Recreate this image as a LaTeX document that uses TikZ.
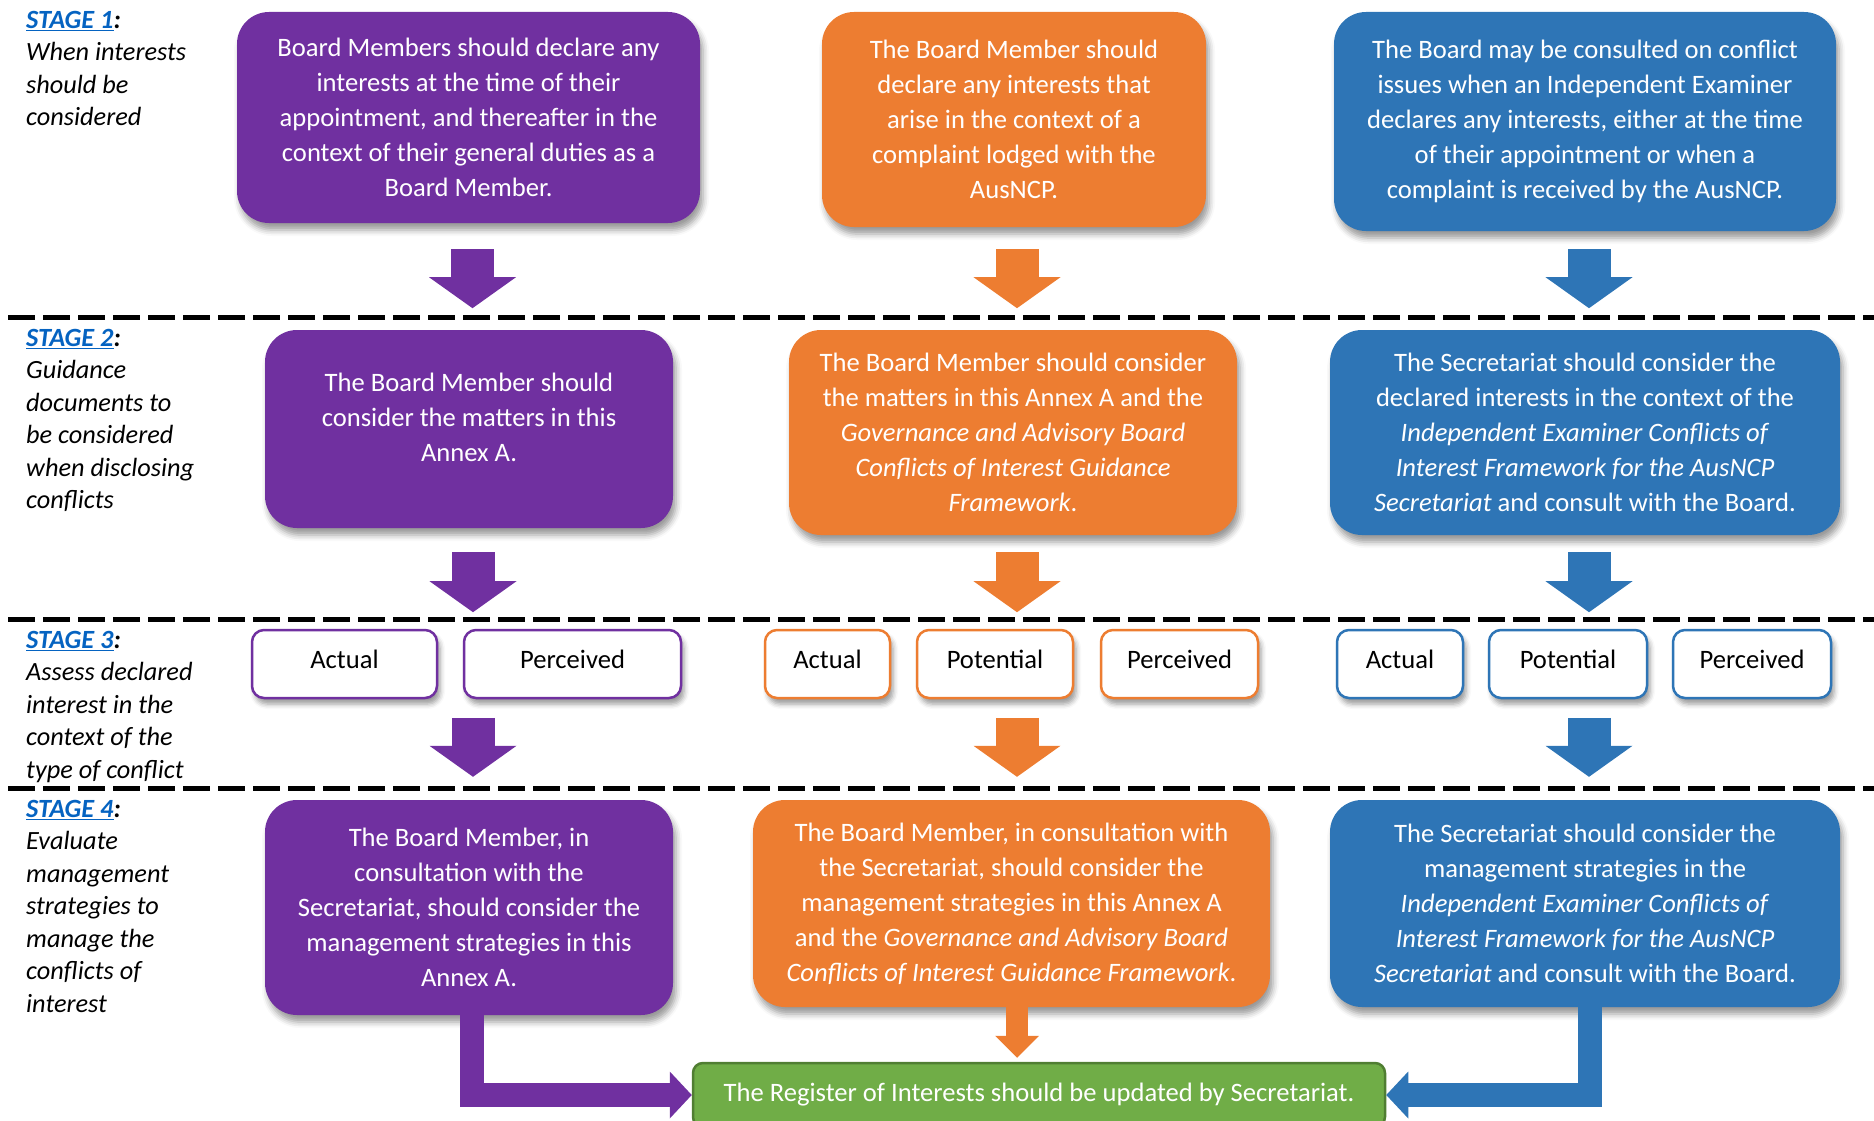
\documentclass[tikz,border=0pt]{standalone}
\usepackage{fontspec}
\setmainfont{Carlito}
\usetikzlibrary{arrows.meta, calc, shadows.blur}
\definecolor{cpurple}{HTML}{7030A0}
\definecolor{corange}{HTML}{ED7D31}
\definecolor{cblue}{HTML}{2E75B6}
\definecolor{cgreen}{HTML}{70AD47}
\definecolor{cgreendark}{HTML}{507E32}
\definecolor{stagelink}{HTML}{0563C1}

\newcommand{\stagetag}[1]{{\bfseries\textcolor{stagelink}{\underline{STAGE #1}}:}}

\begin{document}
\begin{tikzpicture}[
    x=1pt, y=-1pt,
    box text/.style={font=\fontsize{26.6}{35}\selectfont, align=center},
    big box/.style={box text, text=white, rounded corners=32pt, inner sep=0pt,
        blur shadow={shadow xshift=3pt, shadow yshift=-7pt, shadow blur radius=6pt}},
    purple box/.style={big box, fill=cpurple},
    orange box/.style={big box, fill=corange},
    blue box/.style={big box, fill=cblue},
    type box/.style={box text, fill=white, line width=2.5pt, rounded corners=12pt,
        minimum height=68pt, inner sep=0pt, text height=18pt, text depth=10pt,
        blur shadow={shadow xshift=3pt, shadow yshift=-6pt, shadow blur radius=5pt}},
    stage label/.style={font=\fontsize{26.3}{32.5}\selectfont\itshape, align=left,
        anchor=north west, inner sep=0pt},
    dash line/.style={line width=5pt, dash pattern=on 27pt off 8pt},
    down arrow/.style={line width=43pt, -{Triangle[width=87pt, length=31pt, line width=0pt]}},
    end arrow/.style={line width=24pt, line join=miter, -{Triangle[width=47pt, length=22pt, line width=0pt]}},
    small end arrow/.style={line width=22pt, -{Triangle[width=44pt, length=22pt, line width=0pt]}}
]
    \useasboundingbox (0,0) rectangle (1874,1121);
    \clip (0,0) rectangle (1874,1121);

    % --- Stage labels ---
    \node[stage label] (stage1) at (26,11) {\stagetag{1}\\When interests\\should be\\considered};
    \node[stage label] (stage2) at (26,329) {\stagetag{2}\\Guidance\\documents to\\be considered\\when disclosing\\conflicts};
    \node[stage label] (stage3) at (26,631) {\stagetag{3}\\Assess declared\\interest in the\\context of the\\type of conflict};
    \node[stage label] (stage4) at (26,800) {\stagetag{4}\\Evaluate\\management\\strategies to\\manage the\\conflicts of\\interest};

    % --- Stage separators ---
    \draw[dash line] (8,317) -- (1874,317);
    \draw[dash line] (8,619) -- (1874,619);
    \draw[dash line] (8,788) -- (1874,788);

    % --- Stage 1 ---
    \node[purple box, minimum width=463pt, minimum height=211pt] (P1) at (468.5,117.5)
        {Board Members should declare any\\interests at the time of their\\appointment, and thereafter in the\\context of their general duties as a\\Board Member.};
    \node[orange box, minimum width=384pt, minimum height=215pt] (O1) at (1014,119.5)
        {The Board Member should\\declare any interests that\\arise in the context of a\\complaint lodged with the\\AusNCP.};
    \node[blue box, minimum width=502pt, minimum height=219pt] (B1) at (1585,121.5)
        {The Board may be consulted on conflict\\issues when an Independent Examiner\\declares any interests, either at the time\\of their appointment or when a\\complaint is received by the AusNCP.};

    \draw[down arrow, cpurple] ($(P1.south)+(4,26)$) -- ($(P1.south)+(4,85)$);
    \draw[down arrow, corange] ($(O1.south)+(3,22)$) -- ($(O1.south)+(3,81)$);
    \draw[down arrow, cblue] ($(B1.south)+(4,18)$) -- ($(B1.south)+(4,77)$);

    % --- Stage 2 ---
    \node[purple box, minimum width=408pt, minimum height=198pt] (P2) at (469,429) {};
    \node[box text, text=white] (P2text) at (469,417)
        {The Board Member should\\consider the matters in this\\Annex A.};
    \node[orange box, minimum width=448pt, minimum height=205pt] (O2) at (1013,432.5)
        {The Board Member should consider\\the matters in this Annex A and the\\\textit{Governance and Advisory Board}\\\textit{Conflicts of Interest Guidance}\\\textit{Framework}.};
    \node[blue box, minimum width=510pt, minimum height=205pt] (B2) at (1585,432.5)
        {The Secretariat should consider the\\declared interests in the context of the\\\textit{Independent Examiner Conflicts of}\\\textit{Interest Framework for the AusNCP}\\\textit{Secretariat} and consult with the Board.};

    \draw[down arrow, cpurple] ($(P2.south)+(4,24)$) -- ($(P2.south)+(4,84)$);
    \draw[down arrow, corange] ($(O2.south)+(4,17)$) -- ($(O2.south)+(4,77)$);
    \draw[down arrow, cblue] ($(B2.south)+(4,17)$) -- ($(B2.south)+(4,77)$);

    % --- Stage 3 ---
    \node[type box, draw=cpurple, minimum width=185pt] (PA) at (344.5,664) {Actual};
    \node[type box, draw=cpurple, minimum width=217pt] (PP) at (572.5,664) {Perceived};
    \node[type box, draw=corange, minimum width=125pt] (OA) at (827.5,664) {Actual};
    \node[type box, draw=corange, minimum width=156pt] (OT) at (995,664) {Potential};
    \node[type box, draw=corange, minimum width=157pt] (OP) at (1179.5,664) {Perceived};
    \node[type box, draw=cblue, minimum width=126pt] (BA) at (1400,664) {Actual};
    \node[type box, draw=cblue, minimum width=158pt] (BT) at (1568,664) {Potential};
    \node[type box, draw=cblue, minimum width=158pt] (BP) at (1752,664) {Perceived};

    % --- Stage 4 ---
    \node[purple box, minimum width=408pt, minimum height=215pt] (P4) at (469,907.5)
        {The Board Member, in\\consultation with the\\Secretariat, should consider the\\management strategies in this\\Annex A.};
    \node[orange box, minimum width=517pt, minimum height=207pt] (O4) at (1011.5,903.5)
        {The Board Member, in consultation with\\the Secretariat, should consider the\\management strategies in this Annex A\\and the \textit{Governance and Advisory Board}\\\textit{Conflicts of Interest Guidance Framework}.};
    \node[blue box, minimum width=510pt, minimum height=207pt] (B4) at (1585,903.5)
        {The Secretariat should consider the\\management strategies in the\\\textit{Independent Examiner Conflicts of}\\\textit{Interest Framework for the AusNCP}\\\textit{Secretariat} and consult with the Board.};

    \draw[down arrow, cpurple] ($(P4.north)+(4,-82)$) -- ($(P4.north)+(4,-23)$);
    \draw[down arrow, corange] ($(O4.north)+(5.5,-82)$) -- ($(O4.north)+(5.5,-23)$);
    \draw[down arrow, cblue] ($(B4.north)+(4,-82)$) -- ($(B4.north)+(4,-23)$);

    % --- Register ---
    \node[box text, text=white, fill=cgreen, draw=cgreendark, line width=2.5pt,
        rounded corners=10pt, minimum width=692pt, minimum height=64pt] (G) at (1039,1095)
        {The Register of Interests should be updated by Secretariat.};

    \draw[end arrow, cpurple] ($(P4.south)+(3,0)$) |- (G.west);
    \draw[small end arrow, corange] ($(O4.south)+(5.5,0)$) -- ($(O4.south |- G.north)+(5.5,-4)$);
    \draw[end arrow, cblue] ($(B4.south)+(5,0)$) |- (G.east);
\end{tikzpicture}
\end{document}
